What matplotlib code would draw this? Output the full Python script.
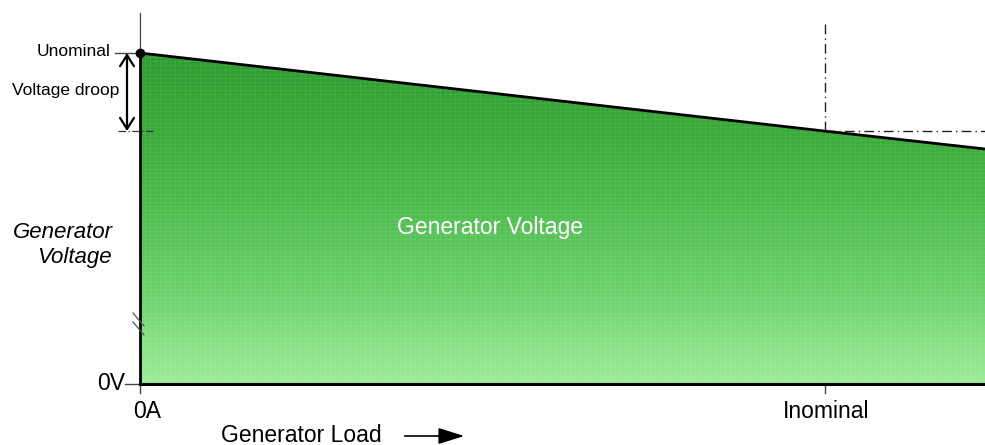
import numpy as np
import matplotlib
matplotlib.use("Agg")
import matplotlib.pyplot as plt
from matplotlib.patches import Polygon, FancyArrowPatch
from matplotlib.colors import LinearSegmentedColormap

plt.rcParams['font.family'] = ['Liberation Sans', 'DejaVu Sans']

# ---- data ----
load = [0.0, 1.0, 1.2336]          # per-unit generator load (0A, Inominal, right edge)
voltage = [1.0, 0.764, 0.710]      # per-unit generator voltage (droop line)
u_nominal = 1.0
u_droop = 0.764
i_nominal = 1.0
x_ticklabels = ["0A", "Inominal"]
y_ticklabels = ["0V"]

W, H = 985, 445
fig = plt.figure(figsize=(W / 100, H / 100), dpi=100)
# axes: origin at px (140,384), right edge 985, top 13
ax = fig.add_axes([140 / W, (H - 384) / H, 845 / W, 371 / H])
xmax = 1.2336
ymax = 371 / 331
ax.set_xlim(0, xmax)
ax.set_ylim(0, ymax)
ax.axis('off')

def fx(px):
    return px / W

def fy(py):
    return 1 - py / H

# gradient fill under droop line
cmap = LinearSegmentedColormap.from_list(
    'g', [(0.0, '#9ceb96'), (0.1, '#8ee488'), (0.25, '#6fd46f'), (0.55, '#4cbb4c'),
          (0.8, '#37a737'), (1.0, '#2e9c30')])
grad = np.linspace(0, 1, 256).reshape(-1, 1)
im = ax.imshow(grad, extent=[0, xmax, 0, max(voltage)], origin='lower', aspect='auto',
               cmap=cmap, zorder=1)
poly = Polygon(list(zip(load, voltage)) + [(load[-1], 0), (0, 0)], closed=True,
               transform=ax.transData, facecolor='none', edgecolor='none')
ax.add_patch(poly)
im.set_clip_path(poly)

# subtle texture grid
for xv in np.arange(0, xmax, 0.0073):
    ax.plot([xv, xv], [0, np.interp(xv, load, voltage)], color='white', lw=0.4, alpha=0.13, zorder=2)
for yv in np.arange(0, max(voltage), 0.0125):
    ln, = ax.plot([0, xmax], [yv, yv], color='white', lw=0.4, alpha=0.13, zorder=2)
    ln.set_clip_path(poly)

# droop line
ax.plot(load, voltage, color='black', lw=2, zorder=4, solid_capstyle='butt')
# axes lines
ax.plot([0, 0], [0, u_nominal], color='black', lw=2, zorder=4, clip_on=False)
ax.plot([0, 0], [u_nominal, ymax], color='#444444', lw=0.9, zorder=4, clip_on=False)
ax.plot([0, xmax], [0, 0], color='black', lw=2.2, zorder=4, clip_on=False)
ax.plot([0], [u_nominal], 'o', color='black', ms=6, zorder=5, clip_on=False)

# ticks
ax.plot([-15 / 685, 0], [0, 0], color='#444444', lw=1, clip_on=False)
ax.plot([0, 0], [0, -9 / 331], color='#444444', lw=1, clip_on=False)
ax.plot([i_nominal, i_nominal], [0, -9 / 331], color='#444444', lw=1, clip_on=False)
ax.plot([-25 / 685, 0], [u_nominal, u_nominal], color='#444444', lw=1, clip_on=False)

# axis break marks
for dy in (0, 9 / 331):
    ax.plot([-7 / 685, 4 / 685], [(384 - 313) / 331 - dy, (384 - 326) / 331 - dy],
            color='#555555', lw=0.9, clip_on=False, zorder=5)

# droop dashed line at left
ax.plot([-22 / 685, 0.02], [u_droop, u_droop], color='#333333', lw=0.9,
        ls=(0, (6, 2, 1, 2)), clip_on=False, zorder=3)
# dash-dot reference lines
ax.plot([i_nominal, i_nominal], [u_droop, (384 - 22) / 331], color='#222222', lw=1,
        ls=(0, (7, 3, 1, 3)), zorder=3)
ax.plot([i_nominal, xmax], [u_droop, u_droop], color='#222222', lw=1,
        ls=(0, (7, 3, 1, 3)), zorder=3)

# voltage droop double arrow
ax.annotate('', xy=(-13 / 685, u_droop), xytext=(-13 / 685, u_nominal),
            xycoords='data', textcoords='data', annotation_clip=False,
            arrowprops=dict(arrowstyle='<->,head_length=0.8,head_width=0.5', lw=1.6, color='black',
                            shrinkA=0, shrinkB=0))

# labels
fig.text(fx(111), fy(51), 'Unominal', ha='right', va='center', fontsize=12.5)
fig.text(fx(66), fy(91), 'Voltage droop', ha='center', va='center', fontsize=12.5)
fig.text(fx(113), fy(232), 'Generator', ha='right', va='center', fontsize=16, style='italic')
fig.text(fx(112), fy(258), 'Voltage', ha='right', va='center', fontsize=16, style='italic')
fig.text(fx(125), fy(383), y_ticklabels[0], ha='right', va='center', fontsize=16.5)
fig.text(fx(147), fy(411), x_ticklabels[0], ha='center', va='center', fontsize=16.5)
fig.text(fx(826), fy(411), x_ticklabels[1], ha='center', va='center', fontsize=16.5)
fig.text(fx(301), fy(435), 'Generator Load', ha='center', va='center', fontsize=16.5)
fig.text(fx(490), fy(228), 'Generator Voltage', ha='center', va='center', fontsize=16.5,
         color='white')
fig.add_artist(FancyArrowPatch((fx(402), fy(436)), (fx(467), fy(436)),
               transform=fig.transFigure, arrowstyle='-|>,head_length=1.6,head_width=0.5',
               lw=1.2, color='black', mutation_scale=10))

fig.savefig('out.png', dpi=100)
